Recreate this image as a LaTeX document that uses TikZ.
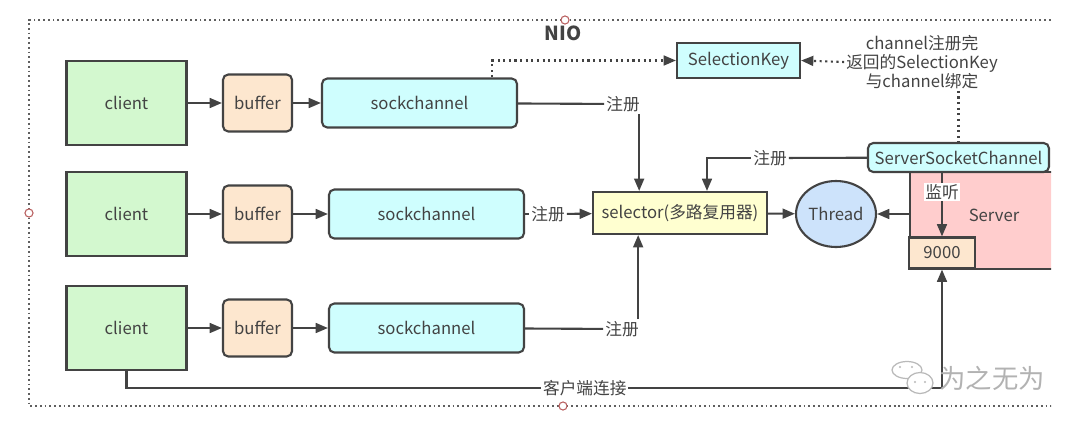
\documentclass[tikz,border=0pt]{standalone}
\usepackage{fontspec}
\setmainfont{Noto Sans CJK SC}
\usetikzlibrary{arrows.meta,shapes.geometric}
\definecolor{ink}{HTML}{434343}
\definecolor{cgreen}{HTML}{D3F8CF}
\definecolor{cpeach}{HTML}{FDE7CF}
\definecolor{ccyan}{HTML}{CFFEFE}
\definecolor{cyellow}{HTML}{FFFFD0}
\definecolor{cblue}{HTML}{CDE3FB}
\definecolor{cpink}{HTML}{FFCDCD}
\definecolor{handle}{HTML}{B85C5C}
\begin{document}
\begin{tikzpicture}[x=0.02cm,y=-0.02cm,
        every node/.style={text=ink,font=\fontsize{9.5}{11.5}\selectfont},
        box/.style={draw=ink,line width=1.2pt,inner sep=0pt,align=center},
        clientbox/.style={box,fill=cgreen,minimum width=2.4cm,minimum height=1.68cm},
        bufbox/.style={box,fill=cpeach,rounded corners=3pt,minimum width=1.38cm,minimum height=1.14cm},
        sockbox/.style={box,fill=ccyan,rounded corners=3pt,minimum width=3.9cm,minimum height=0.98cm},
        lbl/.style={fill=white,inner sep=1pt},
        link/.style={draw=ink,line width=1.2pt},
        arr/.style={link,-{Triangle[length=7pt,width=5.6pt]}},
        dotlink/.style={link,dash pattern=on 1.2pt off 2pt},
        frame/.style={draw=ink!85,line width=1.1pt,dash pattern=on 1pt off 1.7pt},
        handledot/.style={draw=handle,fill=white,line width=0.6pt},
        bubble/.style={draw=gray!55,fill=white,line width=0.7pt}]
    \useasboundingbox (0,0) rectangle (1080,427);
    \begin{scope}
        \clip (0,0) rectangle (1051,427);
        \draw[frame] (1060,20) -- (29,20) -- (29,406) -- (1060,406);
        \node[font=\fontsize{11}{13}\selectfont\bfseries] (title) at (563,33) {NIO};

        % three clients
        \node[clientbox] (client1) at (126.5,103) {client};
        \node[clientbox] (client2) at (126.5,214) {client};
        \node[clientbox] (client3) at (126.5,328) {client};
        \node[bufbox] (buffer1) at (257.5,103) {buffer};
        \node[bufbox] (buffer2) at (257.5,214) {buffer};
        \node[bufbox] (buffer3) at (257.5,328) {buffer};
        \node[sockbox] (sock1) at (419.5,103) {sockchannel};
        \node[sockbox] (sock2) at (426.5,214) {sockchannel};
        \node[sockbox] (sock3) at (426.5,328) {sockchannel};

        \node[box,fill=cyellow,minimum width=3.48cm,minimum height=0.84cm] (sel) at (680,213) {selector(多路复用器)};
        \node[box,ellipse,fill=cblue,minimum width=1.6cm,minimum height=1.32cm] (thread) at (836,214) {Thread};
        \node[box,fill=ccyan,minimum width=2.46cm,minimum height=0.7cm] (skey) at (738.5,60.5) {SelectionKey};
        \node[align=center,inner sep=1pt,font=\fontsize{9.5}{10.8}\selectfont] (note) at (922,62) {channel注册完\\返回的SelectionKey\\与channel绑定};

        \node[box,fill=cpink,minimum width=3.2cm,minimum height=1.94cm] (server) at (990,220.5) {};
        \node (servertxt) at (994,215) {Server};
        \node[box,fill=ccyan,rounded corners=3pt,minimum width=3.62cm,minimum height=0.58cm] (ssc) at (958.5,157.5) {ServerSocketChannel};
        \node[box,fill=cpeach,minimum width=1.32cm,minimum height=0.62cm] (nine) at (942,253) {9000};

        \draw[arr] (client1) -- (buffer1);
        \draw[arr] (buffer1) -- (sock1);
        \draw[arr] (client2) -- (buffer2);
        \draw[arr] (buffer2) -- (sock2);
        \draw[arr] (client3) -- (buffer3);
        \draw[arr] (buffer3) -- (sock3);

        % register on the selector
        \node[lbl] (reg1) at (623,104) {注册};
        \node[lbl] (reg2) at (548,214) {注册};
        \node[lbl] (reg3) at (622,329) {注册};
        \node[lbl] (reg4) at (770,158) {注册};
        \draw[link] (sock1) -- (reg1);
        \draw[arr] ([xshift=-1.5pt]reg1.south east) -- ([xshift=-1.5pt]reg1.south east |- sel.north);
        \draw[link] (sock2) -- (reg2);
        \draw[arr] (reg2) -- (sel);
        \draw[link] (sock3) -- (reg3);
        \draw[arr] ([xshift=-1.5pt]reg3.north east) -- ([xshift=-1.5pt]reg3.north east |- sel.south);
        \draw[link] (ssc) -- (reg4);
        \draw[arr] (reg4.west) -| ([xshift=0.54cm]sel.north);

        \draw[arr] (sel) -- (thread);
        \draw[arr] (server.west |- thread.east) -- (thread);
        \draw[arr] (ssc.south -| nine.north) -- node[lbl,pos=0.3] (listen) {监听} (nine.north);

        \coordinate (cbot) at (127,388);
        \draw[arr] (client3.south) |- node[lbl,pos=0.781] (connect) {客户端连接} (nine.south |- cbot) -- (nine.south);

        % SelectionKey
        \draw[dotlink,-{Triangle[length=7pt,width=5.6pt]}] ([xshift=1.45cm]sock1.north) |- (skey.west);
        \draw[dotlink,-{Triangle[length=7pt,width=5.6pt]}] (note.west) -- (skey.east);
        \draw[dotlink] (ssc.north |- note.south) -- (ssc.north);

        % watermark
        \filldraw[bubble] (907,370) ellipse (0.3cm and 0.17cm);
        \filldraw[bubble] (920,383) ellipse (0.26cm and 0.21cm);
        \fill[gray!55] (900,367) circle (0.7pt) (912,367) circle (0.7pt) (915,382) circle (0.7pt) (925,382) circle (0.7pt);
        \node[text=gray!60,font=\fontsize{15}{17}\selectfont] (mark) at (992,378) {为之无为};

        \filldraw[handledot] (565,20) circle (2.3pt);
        \filldraw[handledot] (29,213) circle (2.3pt);
        \filldraw[handledot] (563,406) circle (2.3pt);
    \end{scope}
\end{tikzpicture}
\end{document}
